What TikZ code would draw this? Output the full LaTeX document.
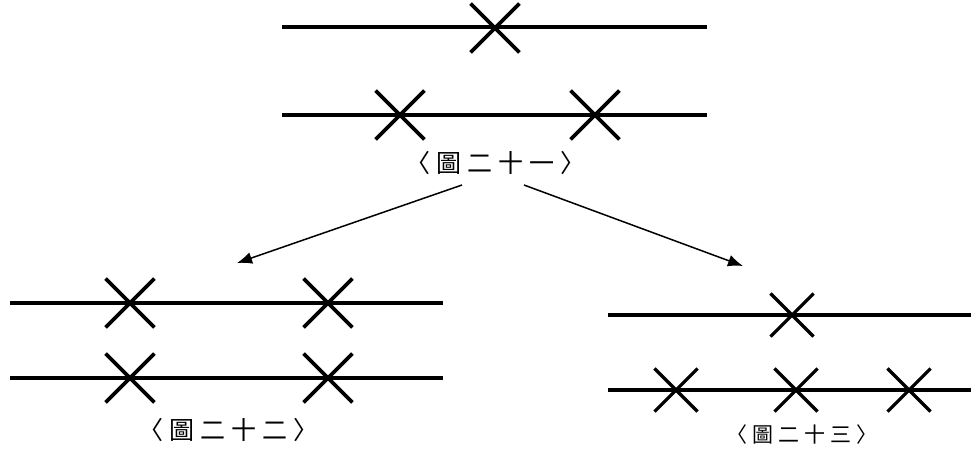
\documentclass[tikz,border=0pt]{standalone}
\usepackage{fontspec}
\newfontfamily\cjk{Noto Sans CJK TC}
\usetikzlibrary{shapes.misc,arrows.meta}
\newcommand{\gp}[1]{\hspace{#1}}
\begin{document}
\begin{tikzpicture}[x=1pt,y=-1pt,
  chrom/.style={line width=4pt,line cap=butt},
  chromthin/.style={line width=3.2pt},
  xmark/.style={cross out,draw,line width=3.8pt,minimum size=#1,inner sep=0pt},
  xmark/.default=45pt,
  lbl/.style={font=\cjk\fontsize{25}{25}\selectfont,inner sep=0pt},
  lbls/.style={font=\cjk\fontsize{21}{21}\selectfont,inner sep=0pt},
  arr/.style={line width=1.5pt,-{Latex[length=15pt,width=12pt]}}]
\path[use as bounding box,fill=white] (0,0) rectangle (971,450);
% top figure
\draw[chrom] (282,27) -- (707,27);
\node[xmark] (t1) at (495,28) {};
\draw[chrom] (282,115) -- (707,115);
\node[xmark] (t2) at (400,115) {};
\node[xmark] (t3) at (595,115) {};
\node[lbl] (l1) at (495,163) {〈\gp{6pt}圖\gp{6pt}二\gp{6pt}十\gp{6pt}一\gp{6pt}〉};
% arrows
\coordinate (a1s) at (462,185);
\coordinate (a1e) at (237,263);
\coordinate (a2s) at (524,185);
\coordinate (a2e) at (743,266);
\draw[arr] (a1s) -- (a1e);
\draw[arr] (a2s) -- (a2e);
% bottom-left figure
\draw[chrom] (10,303) -- (443,303);
\node[xmark] (b1) at (130,303) {};
\node[xmark] (b2) at (328,303) {};
\draw[chrom] (10,378) -- (443,378);
\node[xmark] (b3) at (130,378) {};
\node[xmark] (b4) at (328,378) {};
\node[lbl] (l2) at (228,430) {〈\gp{6pt}圖\gp{6pt}二\gp{6pt}十\gp{6pt}二\gp{6pt}〉};
% bottom-right figure
\draw[chromthin] (608,315) -- (971,315);
\node[xmark=40pt,line width=3.2pt] (c1) at (792,315) {};
\draw[chromthin] (608,390) -- (971,390);
\node[xmark=40pt,line width=3.2pt] (c2) at (676,390) {};
\node[xmark=40pt,line width=3.2pt] (c3) at (796,390) {};
\node[xmark=40pt,line width=3.2pt] (c4) at (909,390) {};
\node[lbls] (l3) at (802,435) {〈\gp{5pt}圖\gp{5pt}二\gp{5pt}十\gp{5pt}三\gp{5pt}〉};
\end{tikzpicture}
\end{document}
